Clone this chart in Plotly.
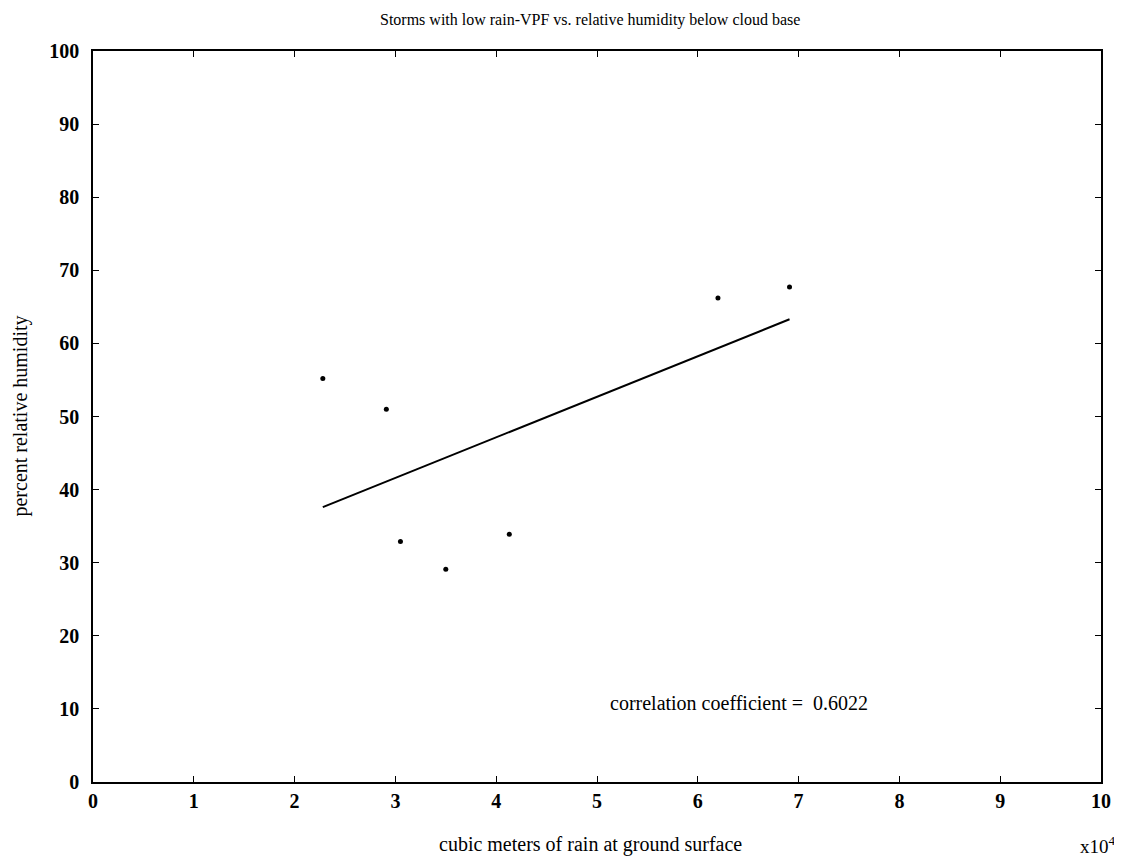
import plotly.graph_objects as go

# Data
rain_x = [2.28, 2.91, 3.05, 3.50, 4.13, 6.20, 6.91]   # x10^4 cubic meters
humidity_y = [55.2, 51.0, 32.9, 29.1, 33.9, 66.2, 67.7]  # percent
fit_x = [2.28, 6.91]
fit_y = [37.6, 63.3]
x_ticks = list(range(0, 11))
y_ticks = list(range(0, 101, 10))

FONT = "Liberation Serif"

fig = go.Figure()
fig.add_trace(go.Scatter(x=fit_x, y=fit_y, mode="lines",
                         line=dict(color="black", width=2), showlegend=False))
fig.add_trace(go.Scatter(x=rain_x, y=humidity_y, mode="markers",
                         marker=dict(color="black", size=5), showlegend=False))

fig.update_layout(
    width=1114, height=851,
    margin=dict(l=85, r=21, t=43, b=77),
    paper_bgcolor="white", plot_bgcolor="white",
    font=dict(family=FONT, color="black", size=16),
    showlegend=False,
)
fig.update_xaxes(range=[0, 10], tickvals=x_ticks,
                 ticktext=[f"<b>{v}</b>" for v in x_ticks],
                 ticks="inside", ticklen=6,
                 tickwidth=1, tickcolor="black", showline=True, linecolor="black",
                 linewidth=1.5, mirror="ticks", showgrid=False, zeroline=False,
                 tickfont=dict(family=FONT, size=20, color="black"))
fig.update_yaxes(range=[0, 100], tickvals=y_ticks,
                 ticktext=[f"<b>{v}</b>" for v in y_ticks],
                 ticks="inside", ticklen=6, ticklabelstandoff=8,
                 tickwidth=1, tickcolor="black", showline=True, linecolor="black",
                 linewidth=1.5, mirror="ticks", showgrid=False, zeroline=False,
                 tickfont=dict(family=FONT, size=20, color="black"))

fig.add_annotation(text="Storms with low rain-VPF vs. relative humidity below cloud base",
                   xref="paper", yref="paper", x=0.493, y=1.0575,
                   xanchor="center", yanchor="top", showarrow=False,
                   font=dict(family=FONT, size=16, color="black"))
fig.add_annotation(text="cubic meters of rain at ground surface", xref="paper", yref="paper",
                   x=0.494, y=-0.086, xanchor="center", yanchor="middle", showarrow=False,
                   font=dict(family=FONT, size=20, color="black"))
fig.add_annotation(text="percent relative humidity", xref="paper", yref="paper",
                   x=-0.0724, y=0.5, xanchor="center", yanchor="middle", textangle=-90,
                   showarrow=False, font=dict(family=FONT, size=20, color="black"))
fig.add_annotation(text="x10<sup>4</sup>", xref="paper", yref="paper",
                   x=0.997, y=-0.086, xanchor="center", yanchor="middle", showarrow=False,
                   font=dict(family=FONT, size=19, color="black"))
fig.add_annotation(text="correlation coefficient =  0.6022", x=6.41, y=10.8,
                   xanchor="center", yanchor="middle", showarrow=False,
                   font=dict(family=FONT, size=20, color="black"))

fig.write_html("out.html")
